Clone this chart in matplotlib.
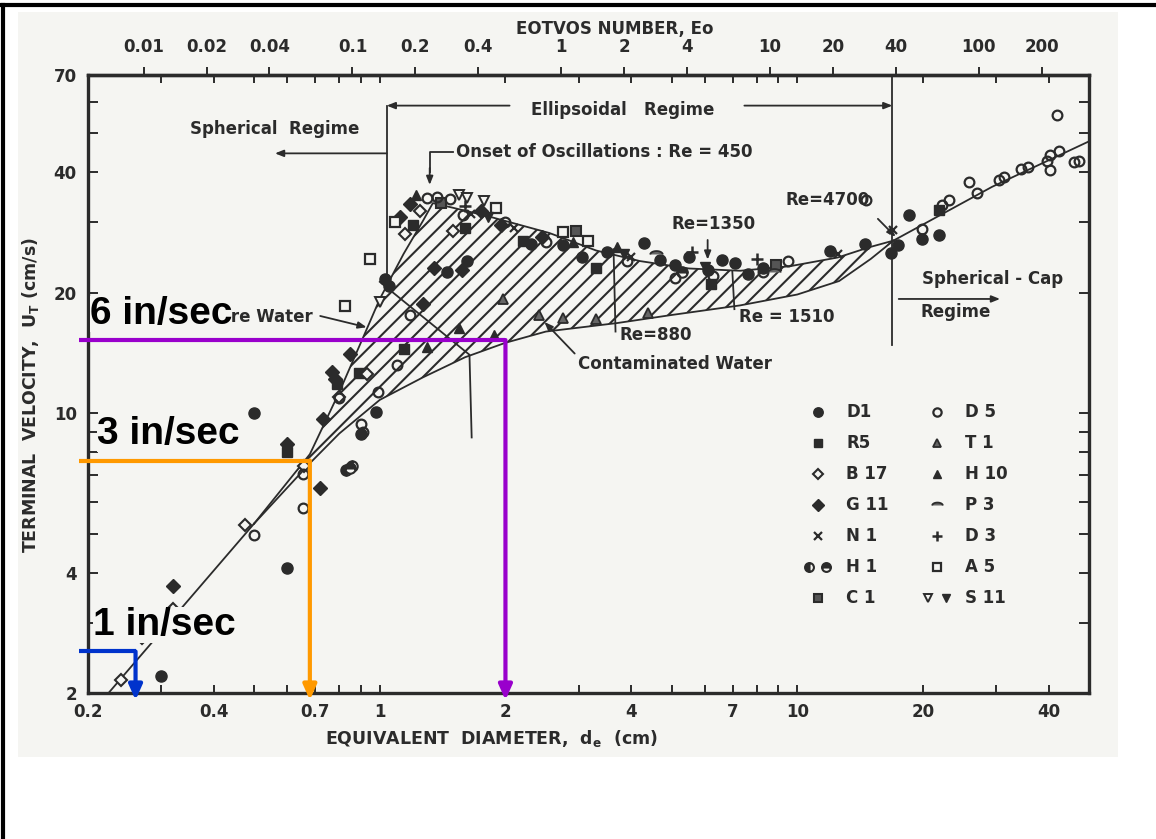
import numpy as np
import matplotlib
matplotlib.use('Agg')
import matplotlib.pyplot as plt
from matplotlib.ticker import FixedLocator, FuncFormatter, NullFormatter, NullLocator
from matplotlib.legend_handler import HandlerTuple
from matplotlib.lines import Line2D
from matplotlib.patches import Rectangle

plt.rcParams['font.family'] = ['DejaVu Sans']
plt.rcParams['font.weight'] = 'bold'
plt.rcParams['axes.labelweight'] = 'bold'
plt.rcParams['hatch.linewidth'] = 1.5
plt.rcParams['mathtext.default'] = 'regular'
INK = '#2b2b2b'
PAPER = '#f5f5f2'

# ---- curves: equivalent diameter (cm) vs terminal velocity (cm/s) ----
stokes_d = [0.224, 0.50]
stokes_v = [2.0, 5.3]
pure_d = [0.50, 0.68, 0.80, 0.93, 1.00, 1.14, 1.27, 1.34, 1.50, 1.83, 2.55, 3.30,
          4.20, 5.50, 7.30, 9.60, 12.5, 14.9, 17.0]
pure_v = [5.3, 7.9, 11.3, 16.2, 19.3, 25.0, 30.3, 33.5, 32.6, 31.0, 28.2, 25.5,
          24.0, 23.0, 22.7, 23.3, 24.5, 26.0, 27.0]
contam_d = [0.50, 0.68, 0.80, 1.00, 1.27, 1.60, 2.00, 2.50, 3.70, 5.00, 7.30,
            10.0, 12.6, 15.0, 17.0]
contam_v = [5.3, 7.5, 8.9, 10.8, 12.3, 13.8, 15.0, 16.0, 16.8, 17.6, 18.6,
            19.8, 21.4, 24.3, 27.0]
cap_d = [17.0, 29.3, 50.0]
cap_v = [27.0, 36.8, 47.8]

# ---- measured points by data source ----
D1_d = [0.30, 0.60, 0.50, 0.98, 0.90, 1.03, 1.05, 1.45, 1.62, 2.30, 2.75, 3.05, 3.50,
        4.30, 4.70, 5.10, 5.50, 6.10, 6.60, 7.10, 7.60, 8.30, 12.0, 14.5, 16.8,
        17.4, 18.5, 19.9, 21.8]
D1_v = [2.2, 4.1, 10.0, 10.1, 8.9, 21.6, 20.8, 22.6, 24.0, 26.5, 26.3, 24.5, 25.3,
        26.6, 24.2, 23.4, 24.5, 22.8, 24.2, 23.8, 22.3, 23.0, 25.5, 26.5, 25.2,
        26.3, 31.3, 27.3, 27.9]
R5_d = [0.60, 0.89, 0.79, 1.14, 1.60, 2.20, 3.30, 6.20, 21.8, 1.20]
R5_v = [8.0, 12.6, 11.8, 14.5, 29.0, 27.0, 23.0, 21.0, 32.2, 29.5]
B17_d = [0.24, 0.27, 0.32, 0.475, 0.66, 0.80, 0.93, 1.25, 1.50, 1.15]
B17_v = [2.15, 2.75, 3.25, 5.25, 7.4, 11.0, 12.5, 32.0, 28.5, 28.0]
G11_d = [0.32, 0.60, 0.72, 0.73, 0.77, 0.78, 0.85, 1.18, 1.12, 1.27, 1.35, 1.57,
         1.75, 1.95, 2.45]
G11_v = [3.7, 8.4, 6.5, 9.7, 12.7, 12.2, 14.1, 33.3, 31.0, 18.8, 23.0, 22.8,
         32.0, 29.5, 27.5]
N1_d = [1.65, 2.10, 4.0, 12.5, 17.0]
N1_v = [31.5, 29.0, 24.5, 25.0, 28.7]
H1a_d = [0.83, 0.86]
H1a_v = [7.2, 7.4]
H1b_d = [0.85, 5.3]
H1b_v = [7.3, 22.5]
C1_d = [1.40, 2.95, 8.9]
C1_v = [33.5, 28.6, 23.4]
D5_d = [0.50, 0.655, 0.655, 0.90, 0.91, 0.80, 0.99, 1.10, 1.18, 1.30, 1.37, 1.47,
        1.58, 2.00, 2.50, 3.90, 5.10, 6.30, 8.30, 9.50,
        14.6, 19.9, 22.2, 23.1, 25.8, 27.0, 30.4, 31.3, 34.4, 35.8, 39.6, 40.4,
        42.3, 40.4, 46.0, 47.2, 42.0]
D5_v = [4.95, 5.8, 7.05, 9.4, 9.0, 10.9, 11.3, 13.2, 17.6, 34.5, 34.6, 34.3,
        31.3, 30.0, 26.8, 24.0, 21.8, 22.0, 22.6, 24.0,
        34.2, 28.9, 33.1, 34.2, 37.8, 35.6, 38.2, 38.9, 40.7, 41.2, 42.8, 44.1,
        45.3, 40.5, 42.4, 42.8, 55.5]
T1_d = [1.97, 2.41, 3.30, 4.40, 2.74]
T1_v = [19.3, 17.6, 17.2, 17.8, 17.3]
H10_d = [1.88, 1.55, 1.30, 2.90, 3.70, 1.22]
H10_v = [15.7, 16.3, 14.6, 26.8, 26.0, 35.0]
P3_d = [4.6, 8.8]
P3_v = [25.0, 22.6]
D3_d = [1.60, 5.6, 8.0]
D3_v = [33.0, 25.3, 24.3]
A5_d = [0.825, 0.946, 1.086, 2.74, 3.15, 1.90]
A5_v = [18.5, 24.3, 30.0, 28.4, 27.0, 32.5]
S11o_d = [1.00, 1.55, 1.62, 1.78]
S11o_v = [19.0, 35.0, 34.5, 34.0]
S11f_d = [1.82, 3.85, 6.0]
S11f_v = [31.0, 25.0, 23.2]

# axis ticks
x_major = [0.2, 0.4, 0.7, 1, 2, 4, 7, 10, 20, 40]
x_minor = [0.3, 0.5, 0.6, 0.8, 0.9, 3, 5, 6, 8, 9, 30]
y_major = [2, 4, 10, 20, 40, 70]
y_minor = [3, 5, 6, 7, 8, 9, 30, 50, 60]
eo_ticks = [0.01, 0.02, 0.04, 0.1, 0.2, 0.4, 1, 2, 4, 10, 20, 40, 100, 200]

# highlighted rise velocities (in/sec) and the bubble sizes they map to
speed_in = [6, 3, 1]
speed_d = [2.0, 0.68, 0.26]
speed_text_d = [0.202, 0.210, 0.206]
speed_colors = ['#9900cc', '#ff9900', '#0033cc']


def d_to_eo(d):
    return (np.asarray(d, dtype=float) / 2.72) ** 2


def eo_to_d(eo):
    return 2.72 * np.sqrt(np.clip(np.asarray(eo, dtype=float), 1e-12, None))


fig = plt.figure(figsize=(11.56, 8.39), dpi=100)
fig.patches.append(Rectangle((18 / 1156, 1 - 757 / 839), 1100 / 1156, 745 / 839,
                             transform=fig.transFigure, facecolor=PAPER,
                             edgecolor='none', zorder=-10))
fig.add_artist(Line2D([0, 1], [0.994, 0.994], color='black', lw=3))
fig.add_artist(Line2D([0.003, 0.003], [0, 0.994], color='black', lw=3))

ax = fig.add_axes([0.0761, 0.174, 0.866, 0.7366])
ax.patch.set_alpha(0)
ax.set_xscale('log')
ax.set_yscale('log')
ax.set_xlim(0.2, 50)
ax.set_ylim(2, 70)

fmt = FuncFormatter(lambda v, p: f'{v:g}')
ax.xaxis.set_major_locator(FixedLocator(x_major))
ax.xaxis.set_minor_locator(FixedLocator(x_minor))
ax.xaxis.set_major_formatter(fmt)
ax.xaxis.set_minor_formatter(NullFormatter())
ax.yaxis.set_major_locator(FixedLocator(y_major))
ax.yaxis.set_minor_locator(FixedLocator(y_minor))
ax.yaxis.set_major_formatter(fmt)
ax.yaxis.set_minor_formatter(NullFormatter())
ax.tick_params(axis='x', which='both', direction='in', top=True, bottom=True,
               length=6, width=1.4, color=INK, labelcolor=INK, labelsize=12, pad=7)
ax.tick_params(axis='y', which='both', direction='in', left=True, right=True,
               length=7, width=1.4, color=INK, labelcolor=INK, labelsize=12, pad=8)
for t in ax.xaxis.get_major_ticks():
    if t.get_loc() in (1, 10):
        t.tick1line.set_markersize(20)
        t.tick2line.set_markersize(22)
for t in ax.yaxis.get_major_ticks():
    if t.get_loc() == 10:
        t.tick1line.set_markersize(20)
        t.tick2line.set_markersize(22)
for s in ax.spines.values():
    s.set_linewidth(2.4)
    s.set_color(INK)

sec = ax.secondary_xaxis('top', functions=(d_to_eo, eo_to_d))
sec.xaxis.set_major_locator(FixedLocator(eo_ticks))
sec.xaxis.set_minor_locator(NullLocator())
sec.xaxis.set_major_formatter(fmt)
sec.tick_params(axis='x', which='major', direction='out', length=6, width=1.4,
                color=INK, labelcolor=INK, labelsize=12, pad=8)
sec.spines['top'].set_linewidth(2.4)
sec.spines['top'].set_color(INK)

fig.text(0.532, 0.966, 'EOTVOS NUMBER, Eo', ha='center', va='center',
         fontsize=12, color=INK)
ax.set_xlabel('EQUIVALENT  DIAMETER,  d$_e$  (cm)', fontsize=12.5, color=INK)
ax.xaxis.set_label_coords(0.403, -0.057)
ax.set_ylabel('TERMINAL  VELOCITY,  U$_T$ (cm/s)', fontsize=12.5, color=INK)
ax.yaxis.set_label_coords(-0.047, 0.482)

# hatched band between pure and contaminated water
band_x = np.r_[pure_d, contam_d[::-1]]
band_y = np.r_[pure_v, contam_v[::-1]]
ax.fill(band_x, band_y, facecolor='none', edgecolor=INK, hatch='//', lw=0, zorder=1)
for xs, ys in [(stokes_d, stokes_v), (pure_d, pure_v), (contam_d, contam_v),
               (cap_d, cap_v)]:
    ax.plot(xs, ys, color=INK, lw=1.3, zorder=2)

mk = dict(linestyle='none', color=INK, zorder=3)
h_D1, = ax.plot(D1_d, D1_v, marker='o', ms=8, **mk)
h_R5, = ax.plot(R5_d, R5_v, marker='s', ms=6.5, **mk)
h_B17, = ax.plot(B17_d, B17_v, marker='D', ms=6.5, mfc=PAPER, mew=1.5, **mk)
h_G11, = ax.plot(G11_d, G11_v, marker='D', ms=7, **mk)
h_N1, = ax.plot(N1_d, N1_v, marker='x', ms=6, mew=1.6, **mk)
h_H1a, = ax.plot(H1a_d, H1a_v, marker='o', ms=7.5, fillstyle='left', mfc=INK,
                 mfcalt=PAPER, mew=1.5, **mk)
h_H1b, = ax.plot(H1b_d, H1b_v, marker='o', ms=7.5, fillstyle='top', mfc=INK,
                 mfcalt=PAPER, mew=1.5, **mk)
h_C1, = ax.plot(C1_d, C1_v, marker='s', ms=6.5, mfc='#555555', mew=1.5, **mk)
h_D5, = ax.plot(D5_d, D5_v, marker='o', ms=7, mfc='none', mew=1.6, **mk)
h_T1, = ax.plot(T1_d, T1_v, marker='^', ms=6.5, mfc='#666666', mew=1.3, **mk)
h_H10, = ax.plot(H10_d, H10_v, marker='^', ms=7, **mk)
th = np.linspace(0, np.pi, 24)
dome = np.column_stack([np.cos(th), 0.55 * np.sin(th)])
h_P3, = ax.plot(P3_d, P3_v, marker=dome, ms=9, mfc='#666666', mew=1.3, **mk)
h_D3, = ax.plot(D3_d, D3_v, marker='+', ms=8, mew=1.8, **mk)
h_A5, = ax.plot(A5_d, A5_v, marker='s', ms=7, mfc=PAPER, mew=1.6, **mk)
h_S11o, = ax.plot(S11o_d, S11o_v, marker='v', ms=7, mfc=PAPER, mew=1.4, **mk)
h_S11f, = ax.plot(S11f_d, S11f_v, marker='v', ms=7, **mk)

handles = [h_D1, h_R5, h_B17, h_G11, h_N1, (h_H1a, h_H1b), h_C1,
           h_D5, h_T1, h_H10, h_P3, h_D3, h_A5, (h_S11o, h_S11f)]
labels = ['D1', 'R5', 'B 17', 'G 11', 'N 1', 'H 1', 'C 1',
          'D 5', 'T 1', 'H 10', 'P 3', 'D 3', 'A 5', 'S 11']
ax.legend(handles, labels, ncol=2, loc='upper left', bbox_to_anchor=(0.699, 0.493),
          frameon=False, fontsize=12, labelcolor=INK, labelspacing=0.78,
          columnspacing=2.0, handlelength=1.8, handletextpad=0.8, numpoints=1,
          markerscale=0.85, handler_map={tuple: HandlerTuple(ndivide=None, pad=0.3)})

# regime boundaries and annotations
line_kw = dict(color=INK, lw=1.3, zorder=2)
ax.plot([1.039, 1.039], [58.7, 21.9], **line_kw)
ax.plot([16.9, 16.9], [70, 14.8], **line_kw)
ax.plot([1.0, 1.64, 1.66], [21.3, 14.0, 8.7], **line_kw)
ax.plot([3.63, 3.67], [25.7, 16.0], **line_kw)
ax.plot([6.99, 7.07], [22.6, 18.2], **line_kw)
ax.plot([1.495, 1.317, 1.317], [44.9, 44.9, 40.0], **line_kw)

arr = dict(arrowstyle='-|>,head_length=0.5,head_width=0.2', color=INK, lw=1.3,
           shrinkA=0, shrinkB=0)
ax.annotate('', xy=(1.039, 58.7), xytext=(2.046, 58.7), arrowprops=arr)
ax.annotate('', xy=(16.9, 58.7), xytext=(7.47, 58.7), arrowprops=arr)
ax.annotate('', xy=(0.561, 44.6), xytext=(1.039, 44.6), arrowprops=arr)
ax.annotate('', xy=(1.317, 37.2), xytext=(1.317, 41.0), arrowprops=arr)
ax.annotate('', xy=(0.93, 16.4), xytext=(0.72, 17.5), arrowprops=arr)
ax.annotate('', xy=(2.48, 16.9), xytext=(2.93, 14.1), arrowprops=arr)
ax.annotate('', xy=(6.10, 24.2), xytext=(6.10, 27.1), arrowprops=arr)
ax.annotate('', xy=(17.2, 27.6), xytext=(15.6, 30.6), arrowprops=arr)
ax.annotate('', xy=(30.6, 19.3), xytext=(17.5, 19.3), arrowprops=arr)

txt = dict(fontsize=12, color=INK, zorder=4)
ax.text(3.81, 57.3, 'Ellipsoidal   Regime', ha='center', va='center', **txt)
ax.text(0.561, 51.4, 'Spherical  Regime', ha='center', va='center', **txt)
ax.text(1.52, 44.9, 'Onset of Oscillations : Re = 450', ha='left', va='center', **txt)
ax.text(0.691, 17.4, 'Pure Water', ha='right', va='center', **txt)
ax.text(5.1, 13.3, 'Contaminated Water', ha='center', va='center', **txt)
ax.text(3.75, 15.7, 'Re=880', ha='left', va='center', **txt)
ax.text(7.26, 17.4, 'Re = 1510', ha='left', va='center', **txt)
ax.text(6.30, 29.7, 'Re=1350', ha='center', va='center', **txt)
ax.text(11.8, 34.1, 'Re=4700', ha='center', va='center', **txt)
ax.text(29.3, 21.7, 'Spherical - Cap', ha='center', va='center', **txt)
ax.text(23.9, 17.95, 'Regime', ha='center', va='center', **txt)

# coloured read-offs: rise speed -> bubble diameter
for s_in, d, tx, c in zip(speed_in, speed_d, speed_text_d, speed_colors):
    v = s_in * 2.54
    ax.plot([0.19, d], [v, v], color=c, lw=3, solid_capstyle='butt',
            clip_on=False, zorder=6)
    ax.annotate('', xy=(d, 1.92), xytext=(d, v), annotation_clip=False, zorder=6,
                arrowprops=dict(arrowstyle='-|>,head_length=0.9,head_width=0.4',
                                color=c, lw=3, shrinkA=0, shrinkB=0))
    ax.annotate(f'{s_in} in/sec', xy=(tx, v), xytext=(0, 19),
                textcoords='offset points', ha='left', va='center',
                fontsize=28, fontfamily='Liberation Sans', fontweight='bold',
                color='black', annotation_clip=False, zorder=7,
                bbox=dict(boxstyle='square,pad=0', fc=PAPER, ec='none'))

fig.savefig('out.png', dpi=100)
